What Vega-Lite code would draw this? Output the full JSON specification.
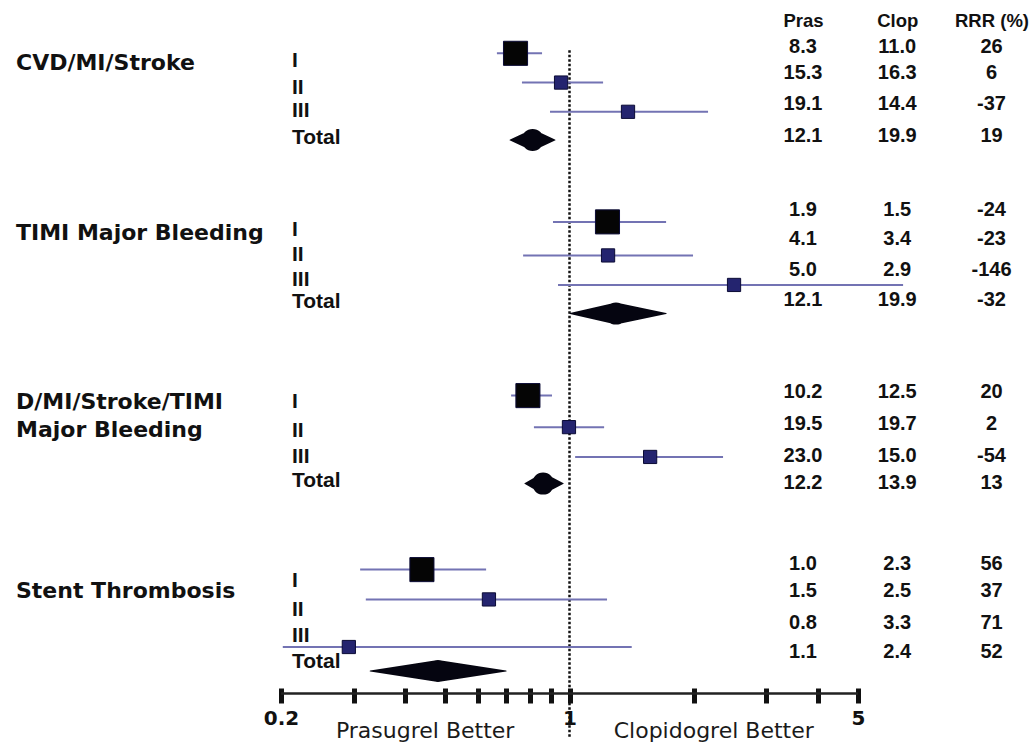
{
  "$schema": "https://vega.github.io/schema/vega-lite/v6.json",
  "width": 577,
  "height": 688,
  "autosize": {"type": "none"},
  "padding": {"left": 281, "top": 0, "right": 177, "bottom": 56},
  "background": "white",
  "config": {"view": {"stroke": null}},
  "datasets": {
    "rows": [
      {"outcome": "CVD/MI/Stroke", "sub": "I", "est": 0.740, "lo": 0.667, "hi": 0.858, "yMark": 1.86, "yLabel": 2.13, "yTable": 1.64, "Pras": "8.3", "Clop": "11.0", "RRR (%)": "26"},
      {"outcome": "CVD/MI/Stroke", "sub": "II", "est": 0.954, "lo": 0.767, "hi": 1.206, "yMark": 2.88, "yLabel": 3.07, "yTable": 2.56, "Pras": "15.3", "Clop": "16.3", "RRR (%)": "6"},
      {"outcome": "CVD/MI/Stroke", "sub": "III", "est": 1.386, "lo": 0.897, "hi": 2.166, "yMark": 3.90, "yLabel": 3.87, "yTable": 3.64, "Pras": "19.1", "Clop": "14.4", "RRR (%)": "-37"},
      {"outcome": "CVD/MI/Stroke", "sub": "Total", "est": 0.814, "lo": 0.718, "hi": 0.922, "yMark": 4.88, "yLabel": 4.80, "yTable": 4.73, "Pras": "12.1", "Clop": "19.9", "RRR (%)": "19"},
      {"outcome": "TIMI Major Bleeding", "sub": "I", "est": 1.236, "lo": 0.912, "hi": 1.714, "yMark": 7.74, "yLabel": 8.02, "yTable": 7.33, "Pras": "1.9", "Clop": "1.5", "RRR (%)": "-24"},
      {"outcome": "TIMI Major Bleeding", "sub": "II", "est": 1.240, "lo": 0.772, "hi": 1.992, "yMark": 8.91, "yLabel": 8.90, "yTable": 8.34, "Pras": "4.1", "Clop": "3.4", "RRR (%)": "-23"},
      {"outcome": "TIMI Major Bleeding", "sub": "III", "est": 2.504, "lo": 0.938, "hi": 6.43, "yMark": 9.94, "yLabel": 9.77, "yTable": 9.42, "Pras": "5.0", "Clop": "2.9", "RRR (%)": "-146"},
      {"outcome": "TIMI Major Bleeding", "sub": "Total", "est": 1.296, "lo": 1.003, "hi": 1.714, "yMark": 10.94, "yLabel": 10.53, "yTable": 10.45, "Pras": "12.1", "Clop": "19.9", "RRR (%)": "-32"},
      {"outcome": "D/MI/Stroke/TIMI Major Bleeding", "sub": "I", "est": 0.793, "lo": 0.722, "hi": 0.907, "yMark": 13.80, "yLabel": 14.02, "yTable": 13.67, "Pras": "10.2", "Clop": "12.5", "RRR (%)": "20"},
      {"outcome": "D/MI/Stroke/TIMI Major Bleeding", "sub": "II", "est": 0.997, "lo": 0.820, "hi": 1.213, "yMark": 14.90, "yLabel": 15.05, "yTable": 14.79, "Pras": "19.5", "Clop": "19.7", "RRR (%)": "2"},
      {"outcome": "D/MI/Stroke/TIMI Major Bleeding", "sub": "III", "est": 1.568, "lo": 1.032, "hi": 2.355, "yMark": 15.94, "yLabel": 15.94, "yTable": 15.91, "Pras": "23.0", "Clop": "15.0", "RRR (%)": "-54"},
      {"outcome": "D/MI/Stroke/TIMI Major Bleeding", "sub": "Total", "est": 0.863, "lo": 0.780, "hi": 0.965, "yMark": 16.87, "yLabel": 16.78, "yTable": 16.85, "Pras": "12.2", "Clop": "13.9", "RRR (%)": "13"},
      {"outcome": "Stent Thrombosis", "sub": "I", "est": 0.439, "lo": 0.311, "hi": 0.628, "yMark": 19.87, "yLabel": 20.27, "yTable": 19.69, "Pras": "1.0", "Clop": "2.3", "RRR (%)": "56"},
      {"outcome": "Stent Thrombosis", "sub": "II", "est": 0.638, "lo": 0.321, "hi": 1.233, "yMark": 20.91, "yLabel": 21.28, "yTable": 20.60, "Pras": "1.5", "Clop": "2.5", "RRR (%)": "37"},
      {"outcome": "Stent Thrombosis", "sub": "III", "est": 0.292, "lo": 0.202, "hi": 1.415, "yMark": 22.57, "yLabel": 22.19, "yTable": 21.72, "Pras": "0.8", "Clop": "3.3", "RRR (%)": "71"},
      {"outcome": "Stent Thrombosis", "sub": "Total", "est": 0.480, "lo": 0.329, "hi": 0.702, "yMark": 23.41, "yLabel": 23.09, "yTable": 22.76, "Pras": "1.1", "Clop": "2.4", "RRR (%)": "52"}
    ],
    "groups": [
      {"outcome": "CVD/MI/Stroke", "label": "CVD/MI/Stroke", "yLabel": 2.20},
      {"outcome": "TIMI Major Bleeding", "label": "TIMI Major Bleeding", "yLabel": 8.13},
      {"outcome": "D/MI/Stroke/TIMI Major Bleeding", "label": ["D/MI/Stroke/TIMI", "Major Bleeding"], "yLabel": 14.04},
      {"outcome": "Stent Thrombosis", "label": "Stent Thrombosis", "yLabel": 20.63}
    ],
    "sides": [
      {"label": "Prasugrel Better", "favors": 0.447},
      {"label": "Clopidogrel Better", "favors": 2.236}
    ]
  },
  "layer": [
    {
      "layer": [
        {
          "data": {"values": [{"ref": 1}]},
          "mark": {"type": "rule", "color": "#111", "strokeWidth": 2.5, "strokeDash": [2.5, 2]},
          "encoding": {
            "x": {
              "field": "ref", "type": "quantitative",
              "scale": {"type": "log", "domain": [0.2, 5], "nice": false},
              "axis": {
                "values": [0.2, 0.3, 0.4, 0.5, 0.6, 0.7, 0.8, 0.9, 1, 2, 3, 4, 5],
                "format": "~g",
                "labelExpr": "datum.value == 0.2 || datum.value == 1 || datum.value == 5 ? datum.label : ''",
                "domain": false, "grid": false, "ticks": true,
                "tickSize": 15, "tickWidth": 5, "tickColor": "#111",
                "labelPadding": 5, "labelFont": "DejaVu Sans", "labelFontWeight": "bold",
                "labelFontSize": 20, "labelColor": "#111", "labelOverlap": false,
                "labelFlush": false, "labelBound": false, "title": null
              }
            },
            "y": {"datum": 1.75, "type": "quantitative", "scale": {"domain": [0, 24], "reverse": true, "nice": false, "zero": false}, "axis": null},
            "y2": {"datum": 25.74}
          }
        },
        {
          "data": {"values": [{"from": 0.2, "to": 5}]},
          "mark": {"type": "rule", "color": "#222", "strokeWidth": 2.5},
          "encoding": {
            "x": {"field": "from", "type": "quantitative", "scale": {"type": "log", "domain": [0.2, 5], "nice": false}},
            "x2": {"field": "to"},
            "y": {"datum": 24.19, "type": "quantitative", "scale": {"domain": [0, 24], "reverse": true, "nice": false, "zero": false}, "axis": null}
          }
        },
        {
          "data": {"name": "rows"},
          "transform": [{"filter": "datum.sub != 'Total'"}],
          "mark": {"type": "rule", "color": "#7373b3", "strokeWidth": 2},
          "encoding": {
            "x": {"field": "lo", "type": "quantitative", "scale": {"type": "log", "domain": [0.2, 5], "nice": false}},
            "x2": {"field": "hi"},
            "y": {"field": "yMark", "type": "quantitative", "scale": {"domain": [0, 24], "reverse": true, "nice": false, "zero": false}, "axis": null}
          }
        },
        {
          "data": {"name": "rows"},
          "transform": [{"filter": "datum.sub != 'Total'"}],
          "mark": {"type": "point", "shape": "square", "filled": true, "opacity": 1, "strokeWidth": 1, "stroke": "#0b0b35"},
          "encoding": {
            "x": {"field": "est", "type": "quantitative", "scale": {"type": "log", "domain": [0.2, 5], "nice": false}},
            "y": {"field": "yMark", "type": "quantitative", "scale": {"domain": [0, 24], "reverse": true, "nice": false, "zero": false}, "axis": null},
            "color": {"field": "sub", "type": "nominal", "scale": {"domain": ["I", "II", "III"], "range": ["#050505", "#24246f", "#24246f"]}, "legend": null},
            "size": {"field": "sub", "type": "nominal", "scale": {"type": "ordinal", "domain": ["I", "II", "III"], "range": [580, 175, 175]}, "legend": null}
          }
        },
        {
          "data": {"name": "rows"},
          "transform": [
            {"filter": "datum.sub == 'Total'"},
            {"fold": ["lo", "est", "hi"], "as": ["key", "value"]}
          ],
          "mark": {"type": "trail", "color": "#050510"},
          "encoding": {
            "x": {"field": "value", "type": "quantitative", "scale": {"type": "log", "domain": [0.2, 5], "nice": false}},
            "y": {"field": "yMark", "type": "quantitative", "scale": {"domain": [0, 24], "reverse": true, "nice": false, "zero": false}, "axis": null},
            "detail": {"field": "outcome", "type": "nominal"},
            "order": {"field": "value", "type": "quantitative"},
            "size": {"condition": {"test": "datum.key == 'est'", "value": 22}, "value": 0}
          }
        },
        {
          "data": {"name": "sides"},
          "mark": {"type": "text", "font": "DejaVu Sans", "fontSize": 22, "color": "#1a1a1a", "baseline": "alphabetic", "align": "center"},
          "encoding": {
            "x": {"field": "favors", "type": "quantitative", "scale": {"type": "log", "domain": [0.2, 5], "nice": false}},
            "y": {"datum": 25.76, "type": "quantitative", "scale": {"domain": [0, 24], "reverse": true, "nice": false, "zero": false}, "axis": null},
            "text": {"field": "label"}
          }
        }
      ]
    },
    {
      "layer": [
        {
          "data": {"name": "groups"},
          "mark": {"type": "text", "align": "left", "baseline": "middle", "font": "DejaVu Sans", "fontWeight": "bold", "fontSize": 22, "lineHeight": 27.5, "color": "#111"},
          "encoding": {
            "x": {"datum": "outcome", "type": "nominal", "scale": {"type": "point", "domain": ["outcome", "sub"], "range": [-265, 11], "padding": 0}, "axis": null},
            "y": {"field": "yLabel", "type": "quantitative", "scale": {"domain": [0, 24], "reverse": true, "nice": false, "zero": false}, "axis": null},
            "text": {"field": "label"}
          }
        },
        {
          "data": {"name": "rows"},
          "mark": {"type": "text", "align": "left", "baseline": "middle", "font": "Liberation Sans", "fontWeight": "bold", "fontSize": 21, "color": "#111"},
          "encoding": {
            "x": {"datum": "sub", "type": "nominal", "scale": {"type": "point", "domain": ["outcome", "sub"], "range": [-265, 11], "padding": 0}, "axis": null},
            "y": {"field": "yLabel", "type": "quantitative", "scale": {"domain": [0, 24], "reverse": true, "nice": false, "zero": false}, "axis": null},
            "text": {"field": "sub"}
          }
        }
      ]
    },
    {
      "data": {"name": "rows"},
      "transform": [{"fold": ["Pras", "Clop", "RRR (%)"], "as": ["column", "cell"]}],
      "mark": {"type": "text", "font": "Liberation Sans", "fontWeight": "bold", "fontSize": 20, "baseline": "middle", "align": "center", "color": "#111"},
      "encoding": {
        "x": {
          "field": "column", "type": "nominal",
          "scale": {"type": "point", "domain": ["Pras", "Clop", "RRR (%)"], "range": [522, 710.5], "padding": 0},
          "axis": {"orient": "top", "offset": -30, "domain": false, "ticks": false, "grid": false, "labelPadding": 0, "labelAngle": 0, "labelFont": "Liberation Sans", "labelFontWeight": "bold", "labelFontSize": 18.5, "labelColor": "#111", "title": null}
        },
        "y": {"field": "yTable", "type": "quantitative", "scale": {"domain": [0, 24], "reverse": true, "nice": false, "zero": false}, "axis": null},
        "text": {"field": "cell"}
      }
    }
  ],
  "resolve": {"scale": {"x": "independent"}, "axis": {"x": "independent"}}
}
